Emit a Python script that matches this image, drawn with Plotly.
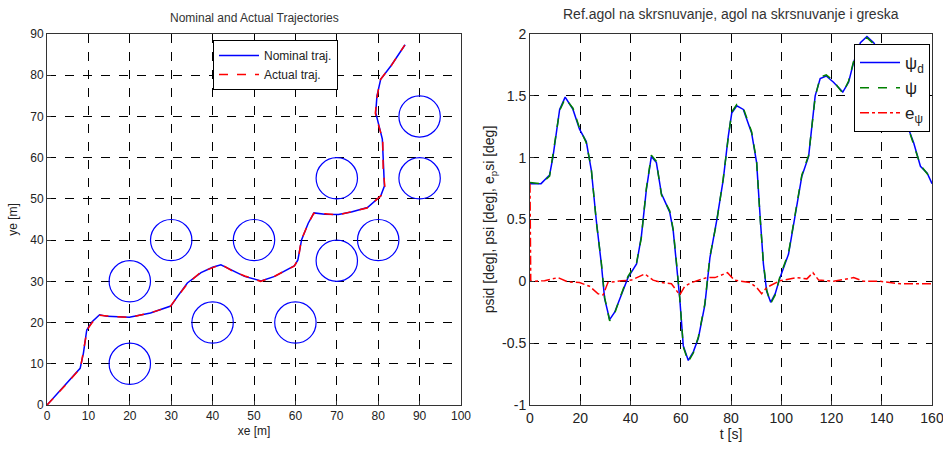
import plotly.graph_objects as go

# ---------------- Left plot data ----------------
nom_x = [0, 4.0, 8.0, 8.8, 9.6, 10.9, 12.7, 14.5, 19.9, 25.0, 29.9, 31.5, 33.9, 37.2, 40.0, 42.0,
         44.5, 47.7, 51.7, 55.0, 59.8, 60.6, 61.5, 63.1, 64.5, 67.1, 70.4, 73.5, 77.4, 80.6,
         81.5, 81.3, 81.0, 80.2, 79.4, 79.7, 80.6, 83.1, 86.5]
nom_y = [0, 4.5, 8.9, 12.6, 18.2, 20.2, 21.9, 21.5, 21.3, 22.3, 24.0, 26.3, 29.6, 32.1, 33.4, 34.0,
         32.8, 31.2, 30.1, 31.2, 33.8, 35.2, 40.1, 44.1, 46.6, 46.3, 46.2, 46.8, 47.9, 50.7,
         53.1, 57.2, 64.5, 67.7, 70.9, 75.0, 79.0, 82.3, 87.4]
act_x = [0, 4.1, 8.1, 8.7, 9.7, 11.0, 12.6, 14.6, 20.0, 25.1, 29.8, 31.6, 34.0, 37.1, 40.1, 42.1,
         44.4, 47.8, 51.6, 55.1, 59.7, 60.7, 61.4, 63.2, 64.4, 67.2, 70.3, 73.6, 77.3, 80.7,
         81.6, 81.2, 81.1, 80.1, 79.3, 79.8, 80.5, 83.2, 86.4]
act_y = [0, 4.4, 9.0, 12.5, 18.3, 20.1, 21.8, 21.6, 21.2, 22.4, 23.9, 26.4, 29.5, 32.2, 33.3, 34.1,
         32.7, 31.3, 30.0, 31.3, 33.7, 35.3, 40.0, 44.2, 46.5, 46.4, 46.1, 46.9, 47.8, 50.8,
         53.0, 57.3, 64.4, 67.8, 70.8, 75.1, 78.9, 82.4, 87.3]
obs_x = [20, 20, 30, 40, 50, 60, 70, 70, 80, 90, 90]
obs_y = [10, 30, 40, 20, 40, 20, 55, 35, 40, 70, 55]
obs_r = 5

# ---------------- Right plot data ----------------
t_d = [0, 4.4, 7.8, 9.1, 11.8, 14.0, 17.1, 19.7, 22.4, 24.4, 26.4, 28.4, 29.7, 31.7, 33.7, 36.4,
       39.0, 42.4, 44.3, 46.3, 48.3, 50.3, 52.3, 55.6, 57.0, 58.3, 59.6, 61.0, 63.0, 65.0, 67.0,
       69.6, 71.6, 74.3, 76.9, 78.9, 80.3, 82.3, 84.9, 88.2, 90.2, 91.6, 92.9, 94.2, 95.8, 97.6,
       99.5, 102.9, 104.9, 108.2, 110.9, 113.5, 115.5, 117.9, 120.8, 124.5, 126.8, 128.8, 131.5,
       134.1, 136.8, 140.0, 144.0, 148.0, 151.0, 152.7, 155.4, 158.1, 160.0]
psi_d = [0.79, 0.79, 0.86, 1.0, 1.39, 1.49, 1.39, 1.23, 1.13, 0.90, 0.49, 0.14, -0.14, -0.31, -0.25,
         -0.11, 0.03, 0.14, 0.36, 0.74, 1.01, 0.96, 0.71, 0.56, 0.41, 0.14, -0.14, -0.52, -0.64,
         -0.57, -0.46, -0.19, 0.19, 0.49, 0.82, 1.17, 1.36, 1.42, 1.39, 1.20, 0.96, 0.52, 0.14,
         -0.08, -0.17, -0.10, 0.03, 0.22, 0.47, 0.85, 1.01, 1.50, 1.64, 1.66, 1.61, 1.53, 1.61,
         1.77, 1.93, 1.98, 1.93, 1.82, 1.60, 1.38, 1.22, 1.12, 0.93, 0.875, 0.79]
psi = [0.80, 0.79, 0.85, 1.01, 1.38, 1.48, 1.40, 1.24, 1.12, 0.91, 0.48, 0.15, -0.13, -0.32, -0.26,
       -0.10, 0.04, 0.15, 0.35, 0.75, 1.02, 0.97, 0.70, 0.57, 0.42, 0.15, -0.13, -0.53, -0.65,
       -0.58, -0.45, -0.18, 0.20, 0.48, 0.83, 1.16, 1.37, 1.43, 1.40, 1.21, 0.97, 0.51, 0.15,
       -0.07, -0.18, -0.11, 0.04, 0.23, 0.46, 0.86, 1.02, 1.49, 1.65, 1.67, 1.62, 1.52, 1.62,
       1.78, 1.94, 1.97, 1.92, 1.81, 1.61, 1.37, 1.21, 1.11, 0.94, 0.87, 0.80]
t_e = [0, 0.3, 5.8, 11.1, 15.1, 19.7, 23.7, 27.1, 29.1, 31.0, 36.4, 40.4, 45.7, 49.0, 52.3, 56.3,
       59.6, 61.6, 64.3, 70.3, 73.6, 78.6, 81.3, 87.6, 90.2, 92.2, 94.2, 99.5, 106.2, 110.2,
       112.6, 114.9, 120.8, 128.8, 132.8, 139.4, 147.4, 160.0]
e_psi = [0.79, 0.0, 0.005, 0.03, -0.005, -0.01, -0.04, -0.10, -0.11, -0.01, 0.005, 0.01, 0.06, 0.01,
         -0.01, -0.02, -0.11, -0.04, -0.01, 0.03, 0.03, 0.07, 0.01, -0.01, -0.05, -0.10, -0.05,
         0.005, 0.03, 0.02, 0.07, 0.01, 0.0, 0.03, 0.0, 0.0, -0.02, -0.02]

L_x_ticks = list(range(0, 101, 10))
L_y_ticks = list(range(0, 91, 10))
R_x_ticks = list(range(0, 161, 20))
R_y_ticks = [-1, -0.5, 0, 0.5, 1, 1.5, 2]
R_y_labels = ["-1", "-0.5", "0", "0.5", "1", "1.5", "2"]

FONT = "Liberation Sans Narrow, Arial Narrow, Liberation Sans, Arial, sans-serif"
W, H = 943, 451
ML, MR, MT, MB = 47, 11, 34, 46
PW, PH = W - ML - MR, H - MT - MB


def px(p):
    return (p - ML) / PW


def py(p):
    return (H - MB - p) / PH


fig = go.Figure()
fig.add_trace(go.Scatter(x=nom_x, y=nom_y, mode="lines", name="Nominal traj.",
                         line=dict(color="rgb(0,0,255)", width=1.5), xaxis="x", yaxis="y", legend="legend"))
fig.add_trace(go.Scatter(x=act_x, y=act_y, mode="lines", name="Actual traj.",
                         line=dict(color="rgb(255,0,0)", width=1.5, dash="dash"), xaxis="x", yaxis="y", legend="legend"))

fig.add_trace(go.Scatter(x=t_d, y=psi_d, mode="lines", name="ψ<sub>d</sub>",
                         line=dict(color="rgb(0,0,255)", width=1.5), xaxis="x2", yaxis="y2", legend="legend2"))
fig.add_trace(go.Scatter(x=t_d, y=psi, mode="lines", name="ψ",
                         line=dict(color="rgb(0,128,0)", width=1.5, dash="dash"), xaxis="x2", yaxis="y2", legend="legend2"))
fig.add_trace(go.Scatter(x=t_e, y=e_psi, mode="lines", name="e<sub>ψ</sub>",
                         line=dict(color="rgb(255,0,0)", width=1.5, dash="dashdot"), xaxis="x2", yaxis="y2", legend="legend2"))

shapes = []
for cx, cy in zip(obs_x, obs_y):
    shapes.append(dict(type="circle", xref="x", yref="y", x0=cx - obs_r, x1=cx + obs_r,
                       y0=cy - obs_r, y1=cy + obs_r, line=dict(color="rgb(0,0,255)", width=1.2), layer="above"))

axis_common = dict(showgrid=True, gridcolor="black", griddash="dash", gridwidth=1,
                   showline=True, linecolor="#333", linewidth=1, mirror=True,
                   ticks="inside", ticklen=4, tickcolor="#333", zeroline=False,
                   ticklabeloverflow="allow")

fig.update_layout(
    width=W, height=H, margin=dict(l=ML, r=MR, t=MT, b=MB, autoexpand=False),
    paper_bgcolor="white", plot_bgcolor="white",
    font=dict(family=FONT, color="#222"),
    shapes=shapes,
    hovermode=False,
    xaxis=dict(domain=[0, px(461)], range=[0, 100], tickvals=L_x_ticks,
               tickfont=dict(size=12), title=dict(text="xe [m]", font=dict(size=12), standoff=4),
               anchor="y", **axis_common),
    yaxis=dict(domain=[0, 1], range=[0, 90], tickvals=L_y_ticks,
               tickfont=dict(size=12), title=dict(text="ye [m]", font=dict(size=12), standoff=10),
               anchor="x", **axis_common),
    xaxis2=dict(domain=[px(530), 1], range=[0, 160], tickvals=R_x_ticks,
                tickfont=dict(size=14), title=dict(text="t [s]", font=dict(size=14), standoff=4),
                anchor="y2", **axis_common),
    yaxis2=dict(domain=[0, 1], range=[-1, 2], tickvals=R_y_ticks, ticktext=R_y_labels,
                tickfont=dict(size=14),
                title=dict(text="psid [deg], psi [deg], e<sub>p</sub>si [deg]", font=dict(size=14), standoff=4),
                anchor="x2", **axis_common),
    legend=dict(x=px(213), y=py(40), xanchor="left", yanchor="top",
                bgcolor="white", bordercolor="black", borderwidth=1,
                font=dict(size=12, color="#222"), tracegroupgap=0, itemwidth=40),
    legend2=dict(x=px(854), y=py(44), xanchor="left", yanchor="top",
                 bgcolor="white", bordercolor="black", borderwidth=1,
                 font=dict(size=17, color="#222"), tracegroupgap=0, itemwidth=40),
    annotations=[
        dict(text="Nominal and Actual Trajectories", x=px(254), y=py(18), xref="paper", yref="paper",
             showarrow=False, font=dict(size=12, color="#333"), xanchor="center", yanchor="middle"),
        dict(text="Ref.agol na skrsnuvanje, agol na skrsnuvanje i greska", x=px(731), y=py(14),
             xref="paper", yref="paper", showarrow=False, font=dict(size=14, color="#333"),
             xanchor="center", yanchor="middle"),
    ],
)

fig.write_html("out.html", config={"displayModeBar": False},
               post_script="document.body.style.margin='0';document.body.style.overflow='hidden';")
